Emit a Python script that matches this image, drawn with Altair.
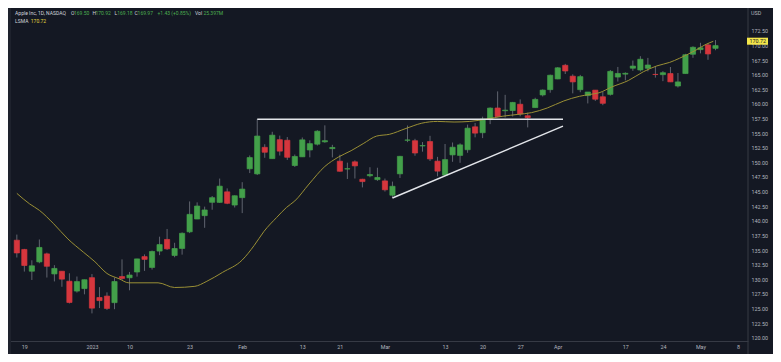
import json
import altair as alt
import pandas as pd

# ---------------- data ----------------
# one candle per trading day, Dec 16 2022 (index 0) .. May 3 2023 (index 93)
opens = [136.69, 135.11, 131.39, 132.98, 134.35, 130.92, 131.38, 129.67, 127.99, 128.41,
         130.28, 126.89, 127.13, 126.01, 130.47, 130.26, 131.25, 133.88, 132.03, 134.83,
         136.82, 134.08, 135.28, 138.12, 140.31, 140.89, 143.17, 143.16, 144.96, 142.70,
         143.97, 148.90, 148.03, 152.57, 150.64, 153.88, 153.78, 149.46, 150.95, 152.12,
         153.11, 153.51, 152.35, 150.20, 148.87, 150.09, 147.11, 147.71, 147.05, 146.83,
         144.38, 148.04, 153.79, 153.70, 152.81, 153.56, 150.21, 147.81, 151.28, 151.19,
         152.16, 156.08, 155.07, 157.32, 159.30, 158.83, 158.86, 159.94, 157.97, 159.37,
         161.53, 162.44, 164.27, 166.60, 164.74, 162.43, 161.42, 162.35, 161.22, 161.63,
         164.59, 165.09, 166.10, 165.80, 166.09, 165.05, 165.00, 165.19, 163.06, 165.19,
         168.49, 169.28, 170.09, 169.50]
highs = [137.65, 135.20, 133.25, 136.81, 134.56, 132.42, 131.41, 131.03, 130.48, 129.95,
         130.90, 128.66, 127.77, 130.29, 133.41, 131.26, 133.51, 134.26, 134.92, 137.29,
         138.61, 136.25, 138.02, 143.32, 143.16, 142.43, 144.25, 147.23, 145.55, 144.34,
         146.61, 151.18, 157.38, 153.10, 155.23, 154.58, 154.33, 151.34, 154.26, 153.77,
         155.50, 156.33, 153.00, 151.30, 149.95, 150.34, 147.19, 149.17, 149.08, 147.23,
         146.71, 151.11, 156.30, 154.03, 153.47, 154.54, 150.94, 153.14, 153.40, 153.25,
         156.46, 156.74, 157.82, 159.40, 162.14, 161.55, 160.34, 160.77, 158.49, 161.05,
         162.47, 165.00, 166.29, 166.84, 165.05, 164.96, 162.03, 162.36, 162.06, 165.80,
         166.32, 165.39, 167.41, 168.16, 167.87, 166.45, 165.60, 166.31, 165.28, 168.56,
         169.85, 170.45, 170.35, 170.92]
lows = [133.73, 131.32, 129.89, 132.75, 130.30, 129.64, 128.72, 125.87, 127.73, 127.43,
        124.17, 125.08, 124.76, 124.89, 129.89, 128.12, 130.46, 131.44, 131.66, 134.13,
        135.03, 133.77, 134.22, 137.90, 140.30, 138.81, 141.90, 143.08, 142.85, 142.28,
        141.32, 148.17, 147.83, 150.78, 150.64, 151.17, 150.42, 149.22, 150.92, 150.86,
        152.88, 153.35, 150.85, 148.41, 147.16, 147.24, 145.72, 147.45, 146.83, 145.01,
        143.90, 147.33, 153.46, 151.13, 151.83, 150.23, 147.61, 147.70, 150.10, 149.92,
        151.64, 154.28, 154.15, 156.54, 157.81, 157.68, 157.85, 157.87, 155.98, 159.35,
        161.27, 161.91, 164.22, 165.11, 161.80, 162.00, 160.08, 160.51, 159.78, 161.42,
        163.82, 164.03, 165.65, 165.54, 165.56, 164.49, 163.89, 163.73, 162.80, 165.19,
        167.88, 168.64, 167.54, 169.18]
closes = [134.51, 132.37, 132.30, 135.45, 132.23, 131.86, 130.03, 126.04, 129.61, 129.93,
          125.07, 126.36, 125.02, 129.62, 130.15, 130.73, 133.49, 133.41, 134.76, 135.94,
          135.21, 135.27, 137.87, 141.11, 142.53, 141.86, 143.96, 145.93, 143.00, 144.29,
          145.43, 150.82, 154.50, 151.73, 154.65, 151.92, 150.87, 151.01, 153.85, 153.20,
          155.33, 153.71, 152.55, 148.48, 148.91, 149.40, 146.71, 147.92, 147.41, 145.31,
          145.91, 151.03, 153.83, 151.60, 152.87, 150.59, 148.50, 150.47, 152.59, 152.99,
          155.85, 155.00, 157.40, 159.28, 157.83, 158.93, 160.25, 158.28, 157.65, 160.77,
          162.36, 164.90, 166.17, 165.63, 163.76, 164.66, 162.03, 160.80, 160.10, 165.56,
          165.21, 165.23, 166.47, 167.63, 166.65, 165.02, 165.33, 163.77, 163.76, 168.41,
          169.68, 169.59, 168.54, 169.97]

# LSMA line, points (bar index, price)
lsma_index = [0.0, 1.7, 3.0, 4.9, 6.8, 8.9, 10.4, 12.0, 13.6, 14.9, 18.8, 21.0, 23.7,
              25.2, 27.4, 30.0, 31.6, 32.9, 34.6, 35.9, 37.0, 38.9, 41.0, 42.8, 44.5,
              46.1, 47.9, 49.6, 51.8, 53.9, 56.0, 58.2, 60.3, 62.5, 64.7, 66.7, 68.5,
              70.6, 72.8, 74.9, 76.2, 77.5, 79.2, 81.4, 83.4, 85.2, 86.9, 88.2, 89.2,
              90.4, 91.6, 92.7]
lsma_value = [144.7, 142.9, 141.8, 139.5, 136.9, 134.6, 133.0, 131.0, 130.1, 129.4, 129.4,
              128.6, 128.8, 129.6, 131.2, 133.3, 135.8, 138.2, 140.6, 142.3, 143.4, 146.3,
              149.3, 150.9, 152.0, 153.2, 154.5, 154.8, 155.8, 156.7, 157.0, 156.9, 157.0,
              157.4, 157.9, 158.2, 158.5, 159.3, 160.5, 161.3, 161.6, 161.9, 162.9, 164.0,
              165.5, 166.5, 167.1, 167.8, 168.4, 169.2, 170.1, 170.7]

# drawn ascending-triangle lines
flat_line_index = [32, 72.7]
flat_line_price = [157.38, 157.38]
rising_line_index = [50, 72.7]
rising_line_price = [143.9, 156.2]

# axis ticks
x_tick_index = [1, 10, 15, 23, 30, 38, 43, 49, 57, 62, 67, 72, 81, 86, 91, 96]
x_tick_labels = ["19", "2023", "10", "23", "Feb", "13", "21", "Mar", "13", "20", "27",
                 "Apr", "17", "24", "May", "8"]
price_ticks = [120.0, 122.5, 125.0, 127.5, 130.0, 132.5, 135.0, 137.5, 140.0, 142.5,
               145.0, 147.5, 150.0, 152.5, 155.0, 157.5, 160.0, 162.5, 165.0, 167.5,
               170.0, 172.5]

# ---------------- styling ----------------
W, H = 740, 333
BG = "#141823"
GREEN = "#43a04a"
RED = "#d6363d"
WICK = "#60646f"
AXIS_TXT = "#b2b5be"
LINE_CLR = "#363a45"
FS = 5.4
HFS = 5.0
FONT = "Roboto"

df = pd.DataFrame({
    "i": list(range(len(opens))),
    "open": opens, "high": highs, "low": lows, "close": closes,
})
df["dir"] = ["up" if c >= o else "down" for o, c in zip(opens, closes)]

lsma_df = pd.DataFrame({"i": lsma_index, "v": lsma_value})
tri_df = pd.DataFrame({
    "i": flat_line_index + rising_line_index,
    "p": flat_line_price + rising_line_price,
    "line": ["flat", "flat", "rise", "rise"],
})

xs = alt.Scale(domain=[-0.51, 96.66], nice=False, zero=False)
ys = alt.Scale(domain=[119.45, 176.4], nice=False, zero=False)

label_expr = "{}[indexof({}, datum.value)]".format(json.dumps(x_tick_labels), json.dumps(x_tick_index))

x_axis = alt.Axis(values=x_tick_index, labelExpr=label_expr, title=None, grid=False,
                  ticks=False, domainColor=LINE_CLR, labelColor=AXIS_TXT, labelFont=FONT,
                  labelFontSize=FS, labelPadding=3, labelOverlap=False, labelFlush=False,
                  minExtent=13, maxExtent=13)
y_axis = alt.Axis(orient="right", values=price_ticks, format=".2f", title=None, grid=False,
                  ticks=False, domain=False, labelColor=AXIS_TXT, labelFont=FONT,
                  labelFontSize=FS, labelPadding=3, labelOverlap=False, labelFlush=False,
                  minExtent=25, maxExtent=25)

color_scale = alt.Scale(domain=["up", "down"], range=[GREEN, RED])


def X(field):
    return alt.X(field, scale=xs, axis=x_axis)


def Y(field):
    return alt.Y(field, scale=ys, axis=y_axis)


wicks = alt.Chart(df).mark_rule(color=WICK, strokeWidth=1).encode(
    x=X("i:Q"), y=Y("low:Q"), y2="high:Q",
)

bodies = alt.Chart(df).mark_bar(size=5.2, strokeWidth=0.7).encode(
    x=X("i:Q"), y=Y("open:Q"), y2="close:Q",
    color=alt.Color("dir:N", scale=color_scale, legend=None),
    stroke=alt.Stroke("dir:N", scale=color_scale, legend=None),
)

lsma = alt.Chart(lsma_df).mark_line(color="#9a8f35", strokeWidth=1, interpolate="monotone").encode(
    x=X("i:Q"), y=Y("v:Q"),
)

triangle = alt.Chart(tri_df).mark_line(color="#e3e5ea", strokeWidth=1.5).encode(
    x=X("i:Q"), y=Y("p:Q"), detail="line:N",
)

dummy = pd.DataFrame({"_": [0]})


def txt(text, x, y, color, size=FS, align="left", weight="normal"):
    return alt.Chart(dummy).mark_text(
        text=text, align=align, baseline="middle", color=color, fontSize=size,
        font=FONT, fontWeight=weight,
    ).encode(x=alt.value(x), y=alt.value(y))


HDR = "#d1d4dc"
VAL = "#4caf50"
header = [
    txt("Apple Inc, 1D, NASDAQ", 7.1, 5.2, HDR, HFS),
    txt("O", 62.9, 5.2, HDR, HFS), txt("169.50", 66.0, 5.2, VAL, HFS),
    txt("H", 84.4, 5.2, HDR, HFS), txt("170.92", 87.4, 5.2, VAL, HFS),
    txt("L", 106.4, 5.2, HDR, HFS), txt("169.18", 109.2, 5.2, VAL, HFS),
    txt("C", 126.6, 5.2, HDR, HFS), txt("169.97", 129.6, 5.2, VAL, HFS),
    txt("+1.43 (+0.85%)", 149.5, 5.2, VAL, HFS),
    txt("Vol", 187.0, 5.2, HDR, HFS), txt("25.397M", 195.4, 5.2, VAL, HFS),
    txt("LSMA", 7.1, 13.3, HDR, HFS), txt("170.72", 22.8, 13.3, "#e2d440", HFS),
]

separator = alt.Chart(dummy).mark_rule(color=LINE_CLR, strokeWidth=1).encode(
    x=alt.value(W), y=alt.value(0), y2=alt.value(H + 13)
)
left_strip = alt.Chart(dummy).mark_rect(color="#1e222d").encode(
    x=alt.value(0), x2=alt.value(3), y=alt.value(0), y2=alt.value(H + 13)
)
last_box = alt.Chart(dummy).mark_rect(color="#f4e64a").encode(
    x=alt.value(W - 1), x2=alt.value(W + 20), y=alt.value(29.7), y2=alt.value(36.7)
)
last_txt = txt("170.72", W + 1.5, 33.3, "#131722")
usd = txt("USD", W + 3, 5, AXIS_TXT)

chart = alt.layer(
    wicks, bodies, lsma, triangle, separator, left_strip, last_box, last_txt, usd, *header
).properties(
    width=W, height=H, background=BG,
    padding={"left": 0, "top": 0, "right": 25, "bottom": 13},
    autosize=alt.AutoSizeParams(type="none"),
).configure_view(stroke="transparent")

chart.save("out.html", embed_options={"renderer": "svg", "actions": False})
